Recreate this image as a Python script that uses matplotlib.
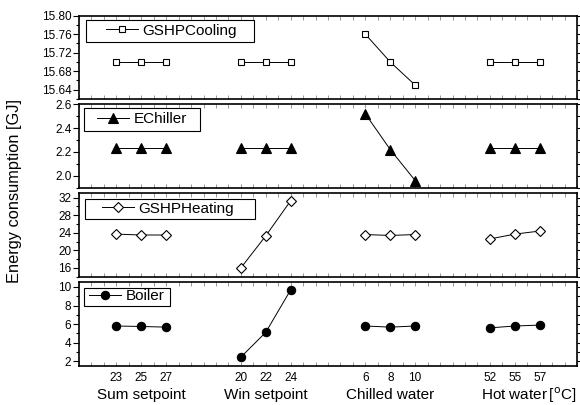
import matplotlib.pyplot as plt
import numpy as np
from matplotlib.ticker import MultipleLocator, FixedLocator
from matplotlib.patches import Rectangle
from matplotlib.transforms import blended_transform_factory

plt.rcParams['font.family'] = ['Liberation Sans', 'DejaVu Sans']

# data
xpos = [1.5, 2.5, 3.5, 6.5, 7.5, 8.5, 11.5, 12.5, 13.5, 16.5, 17.5, 18.5]
xticklabels = ['23', '25', '27', '20', '22', '24', '6', '8', '10', '52', '55', '57']
groups = ['Sum setpoint', 'Win setpoint', 'Chilled water', 'Hot water$\\,$[$^{\\mathrm{o}}$C]']

gshp_cooling = [15.70, 15.70, 15.70, 15.70, 15.70, 15.70, 15.76, 15.70, 15.65, 15.70, 15.70, 15.70]
echiller = [2.23, 2.23, 2.23, 2.23, 2.23, 2.23, 2.52, 2.22, 1.96, 2.23, 2.23, 2.23]
gshp_heating = [23.7, 23.5, 23.5, 16.0, 23.3, 31.3, 23.6, 23.4, 23.6, 22.6, 23.7, 24.4]
boiler = [5.8, 5.75, 5.68, 2.45, 5.12, 9.68, 5.8, 5.68, 5.8, 5.6, 5.8, 5.9]

W, H = 580, 405
fig = plt.figure(figsize=(W / 100, H / 100), dpi=100)

# panel edges in pixels (top, bottom)
edges = [(15.7, 99.0), (104.3, 187.7), (193.3, 276.7), (282.3, 366.0)]
left, right = 79 / W, 577 / W
# legend boxes in pixels: x0, x1, y0, y1, handle start
legboxes = [(86, 254, 20, 41.5, 106), (83.5, 200, 107.5, 130.5, 97),
            (85, 255, 198.5, 219, 102), (84, 170, 287.5, 305.5, 89)]

series = [
    (gshp_cooling, 'GSHPCooling', dict(marker='s', mfc='white', ms=5), (15.62, 15.80), 0.04, 0.02, '%.2f'),
    (echiller, 'EChiller', dict(marker='^', mfc='black', ms=6.5), (1.9, 2.6), 0.2, 0.1, '%.1f'),
    (gshp_heating, 'GSHPHeating', dict(marker='D', mfc='white', ms=5), (14, 33), 4, 2, '%d'),
    (boiler, 'Boiler', dict(marker='o', mfc='black', ms=6), (1.5, 10.5), 2, 1, '%d'),
]

axes = []
for i, (vals, name, mk, ylim, major, minor, fmt) in enumerate(series):
    t, b = edges[i]
    ax = fig.add_axes([left, 1 - b / H, right - left, (b - t) / H])
    axes.append(ax)
    for g in range(4):
        sl = slice(3 * g, 3 * g + 3)
        ax.plot(xpos[sl], vals[sl], color='black', lw=0.7, mec='black', mew=0.8,
                label=name if g == 0 else None, **mk)
    ax.set_xlim(0, 20)
    ax.set_ylim(*ylim)
    ax.yaxis.set_major_locator(MultipleLocator(major))
    ax.yaxis.set_minor_locator(MultipleLocator(minor))
    ax.yaxis.set_major_formatter(plt.FormatStrFormatter(fmt))
    ax.xaxis.set_major_locator(FixedLocator(xpos))
    ax.xaxis.set_minor_locator(MultipleLocator(0.5))
    for s in ax.spines.values():
        s.set_linewidth(1.2)
    ax.tick_params(axis='y', which='both', direction='out', left=True, right=True,
                   labelsize=8.5, width=0.8, pad=1.5)
    ax.tick_params(axis='y', which='major', length=4)
    ax.tick_params(axis='y', which='minor', length=2)
    ax.tick_params(axis='x', which='both', direction='in', top=True, bottom=True,
                   length=3, width=0.6, color='#888888', labelsize=8.5, pad=4)
    if i < 3:
        ax.tick_params(axis='x', labelbottom=False)
    else:
        ax.set_xticklabels(xticklabels)

    # legend: frameless, with a frame box drawn around it
    x0, x1, y0, y1, hx = legboxes[i]
    ax.legend(loc='center left', bbox_to_anchor=(hx / W, 1 - (y0 + y1) / 2 / H),
              bbox_transform=fig.transFigure, borderaxespad=0, borderpad=0,
              fontsize=11, handlelength=2.1, handletextpad=0.3, frameon=False)
    fig.patches.append(Rectangle((x0 / W, 1 - y1 / H), (x1 - x0) / W, (y1 - y0) / H,
                                 transform=fig.transFigure, fill=True, facecolor='none',
                                 edgecolor='black', lw=0.8, zorder=5))

ax4 = axes[-1]
tr = blended_transform_factory(ax4.transData, ax4.transAxes)
for g, lab in enumerate(groups):
    xc = xpos[3 * g + 1] + (0.55 if g == 3 else 0)
    ax4.text(xc, -0.35, lab, transform=tr, ha='center', va='center', fontsize=11)

fig.text(15 / W, (H - 191) / H, 'Energy consumption [GJ]', rotation=90,
         ha='center', va='center', fontsize=11.8)

plt.savefig('out.png', dpi=100)
